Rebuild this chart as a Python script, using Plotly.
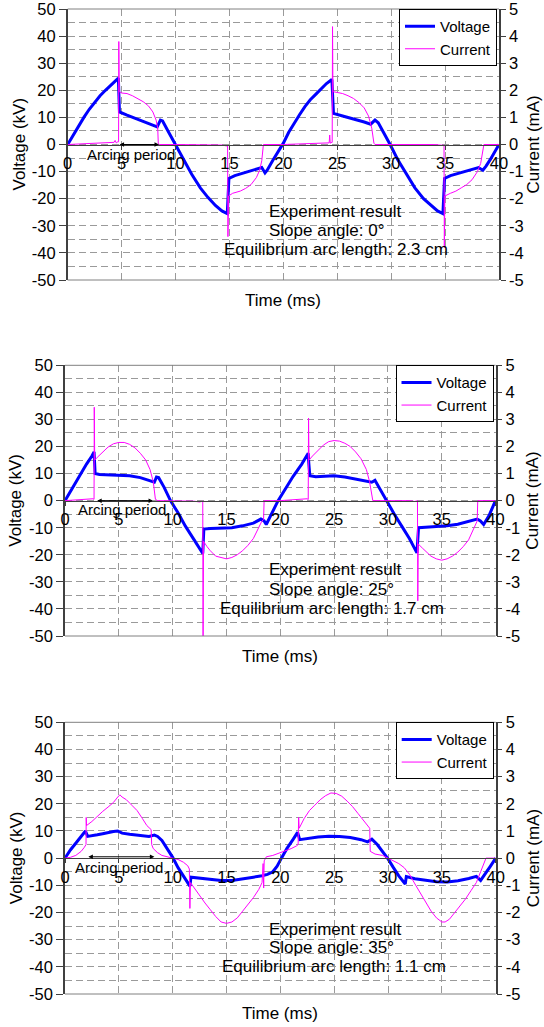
import plotly.graph_objects as go

W, H = 544, 1027
FONT = "Liberation Sans, Arial, sans-serif"

# ---------------- data ----------------
time_ticks = [0, 5, 10, 15, 20, 25, 30, 35, 40]
volt_ticks = [-50, -40, -30, -20, -10, 0, 10, 20, 30, 40, 50]
curr_ticks = [-5, -4, -3, -2, -1, 0, 1, 2, 3, 4, 5]

slope_angles = [0, 25, 35]
arc_lengths = [2.3, 1.7, 1.1]

# Panel 1 (slope 0 deg)
t1_v = [0, 0.5, 1, 1.5, 2, 2.5, 3, 3.5, 4, 4.4, 4.7, 4.75, 4.8, 5.5, 6.5, 7.5, 8.3, 8.6, 8.8, 9.3,
        10, 10.7, 11.5, 12.3, 13, 13.7, 14.3, 14.8, 14.85, 14.95, 15.5, 16.5, 17.5, 18.0, 18.3, 18.5, 19, 19.5, 20, 20.5,
        21, 21.5, 22, 22.5, 23, 23.5, 24, 24.5, 24.55, 24.65, 25.5, 26.5, 27.5, 28.1, 28.5, 28.8, 29.3, 29.9, 30.6, 31.4,
        32.2, 33, 33.7, 34.3, 34.8, 34.85, 34.95, 35.5, 36.5, 37.5, 38.1, 38.5, 38.8, 39.2, 39.6, 40]
v1 = [0, 3.5, 7, 10, 13, 15.5, 18, 20, 22, 23.5, 24.5, 18, 12, 10.8, 9.3, 7.8, 6.5, 9, 8.7, 5,
      0, -5.5, -11, -16, -19.5, -22.5, -24.5, -25.5, -18, -12.5, -11.5, -10.3, -9, -8.5, -10.5, -9.5, -6, -2.8, 0.5, 4.5,
      8, 11, 14, 16.5, 18.5, 20.5, 22.5, 24, 18, 11.5, 10.5, 9.5, 8.3, 7.5, 9, 8, 4.5, 0, -5.5, -11,
      -16, -20, -22.5, -24.5, -25.5, -18, -12.5, -11.5, -10.3, -9, -8.5, -9.5, -8, -5.5, -2.5, 0]
t1_i = [0, 1, 2, 3, 4, 4.3, 4.4, 4.5, 4.65, 4.72, 4.74, 4.78, 5, 5.5, 6, 6.5, 7, 7.5, 7.9, 8.2,
        8.35, 8.4, 8.5, 10, 12, 14, 14.3, 14.7, 14.8, 14.83, 14.86, 14.92, 15.3, 16, 16.5, 17, 17.5, 17.8, 18, 18.1,
        18.15, 20, 22, 23, 24, 24.25, 24.3, 24.35, 24.5, 24.53, 24.56, 24.6, 25, 25.5, 26, 26.5, 27, 27.5, 27.9, 28.2,
        28.4, 28.5, 30, 32, 34, 34.8, 34.88, 34.9, 34.93, 34.98, 35.5, 36, 36.5, 37, 37.5, 38, 38.3, 38.5, 38.6, 40]
i1 = [0, 0.02, 0.03, 0.05, 0.07, 0.08, 0.15, 0.06, 0.1, 0.1, 3.8, 1.95, 1.9, 1.88, 1.8, 1.7, 1.58, 1.42, 1.2, 0.9,
      0.6, 0.05, 0, 0, 0, 0, -0.02, -0.05, -0.03, -0.05, -3.4, -1.9, -1.8, -1.72, -1.62, -1.48, -1.22, -0.95, -0.6, -0.1,
      0, 0, 0.02, 0.03, 0.05, 0.06, 0.35, 0.05, 0.08, 0.08, 4.35, 1.95, 1.92, 1.88, 1.8, 1.7, 1.55, 1.35, 1.05, 0.6,
      0.05, 0, 0, 0, 0, -0.03, -0.02, -0.02, -3.8, -1.9, -1.8, -1.72, -1.6, -1.48, -1.3, -1.0, -0.7, -0.3, 0, 0]

# Panel 2 (slope 25 deg)
t2_v = [0, 0.5, 1, 1.5, 2, 2.5, 2.7, 2.75, 2.8, 3.2, 4, 5, 6, 7, 7.8, 8.3, 8.5, 8.7, 9.2, 9.8,
        10.5, 11.2, 12, 12.8, 12.85, 12.9, 13.5, 14.5, 15.5, 16.5, 17.5, 18.2, 18.5, 18.7, 19.2, 19.8, 20.5, 21.2, 22, 22.6,
        22.65, 22.75, 23.3, 24, 25, 26, 27, 28, 28.5, 28.8, 29.3, 29.9, 30.6, 31.3, 32, 32.7, 32.75, 32.85, 33.5, 34.5,
        35.5, 36.5, 37.5, 38.3, 38.6, 38.9, 39.4, 40]
v2 = [0, 3.5, 7, 10.3, 13.5, 16.5, 18, 14, 10, 9.7, 9.5, 9.5, 9.2, 8.5, 7.5, 6.8, 8.7, 8.5, 5, 0,
      -4.5, -9.5, -14.5, -19.5, -15, -10.5, -10.3, -10.2, -10, -9.3, -8.3, -6.8, -7.5, -8.8, -5, 0, 4.5, 9, 13.5, 17.5,
      14, 9.2, 8.8, 9, 9.2, 8.7, 8, 7.3, 6.8, 7.5, 4, -0.3, -5, -9.5, -14, -19.3, -15, -10, -9.8, -9.6,
      -9.3, -8.7, -7.8, -6.8, -7.5, -8.8, -5.5, 0]
t2_i = [0, 1, 2, 2.6, 2.7, 2.72, 2.76, 3, 3.5, 4, 4.5, 5, 5.5, 6, 6.5, 7, 7.5, 7.9, 8.2, 8.35,
        8.4, 8.6, 10, 11, 12, 12.5, 12.8, 12.83, 12.87, 13.2, 13.5, 14, 14.5, 15, 15.5, 16, 16.5, 17, 17.5, 18,
        18.3, 18.45, 18.5, 20, 21, 22, 22.5, 22.6, 22.63, 22.67, 23, 23.5, 24, 24.5, 25, 25.5, 26, 26.5, 27, 27.5,
        28, 28.3, 28.5, 28.6, 30, 32, 32.5, 32.75, 32.78, 32.82, 33.2, 33.5, 34, 34.5, 35, 35.5, 36, 36.5, 37, 37.5,
        38, 38.3, 38.35, 40]
i2 = [0, 0.03, 0.05, 0.07, 0.05, 3.45, 1.5, 1.6, 1.8, 1.98, 2.1, 2.15, 2.15, 2.08, 1.95, 1.75, 1.5, 1.15, 0.7, 0.3,
      0.05, 0, 0, 0, -0.02, -0.05, -0.02, -5, -1.5, -1.7, -1.85, -2.05, -2.1, -2.15, -2.1, -2.0, -1.85, -1.65, -1.4, -1.0,
      -0.75, -0.7, 0, 0, 0.02, 0.05, 0.07, 0.04, 3.05, 1.5, 1.65, 1.85, 2.05, 2.18, 2.22, 2.2, 2.12, 2.0, 1.8, 1.55,
      1.15, 0.7, 0.2, 0, 0, 0, -0.03, 0, -3.7, -1.6, -1.75, -1.85, -2.05, -2.15, -2.2, -2.15, -2.05, -1.9, -1.7, -1.45,
      -1.05, -0.75, 0, 0]

# Panel 3 (slope 35 deg)
t3_v = [0, 0.5, 1, 1.5, 1.9, 2.1, 2.5, 3, 3.5, 4, 4.5, 4.9, 5.3, 6, 7, 7.8, 8.3, 8.6, 9, 9.5,
        10, 10.5, 11, 11.6, 11.7, 12.5, 13.5, 14.5, 15.5, 16.5, 17.5, 18.3, 18.8, 19.3, 19.7, 20.1, 20.6, 21.2, 21.6, 21.8,
        22.5, 23.5, 24.5, 25.5, 26.5, 27.5, 28.1, 28.5, 29, 29.5, 30, 30.5, 31, 31.6, 31.7, 32.5, 33.5, 34.5, 35.5, 36.5,
        37.5, 38.2, 38.6, 39, 39.5, 40]
v3 = [0, 3, 5.5, 8, 10, 8, 8.2, 8.6, 9, 9.5, 9.8, 10, 9.2, 8.8, 8.4, 8, 8.5, 8, 6.5, 3.5,
      0.3, -3.5, -6.8, -10.3, -7, -7.3, -7.8, -8.2, -8.2, -7.7, -7, -6.5, -6, -5, -3, 0, 3.5, 7, 9.5, 6.8,
      7.3, 7.8, 8.1, 8, 7.6, 6.8, 6, 7, 5, 2.5, -0.3, -3.5, -6.5, -9.5, -6.8, -7.6, -8.2, -8.7, -8.8, -8.3,
      -7.5, -6.7, -8.2, -6, -3, 0]
t3_i = [0, 0.5, 1, 1.5, 1.8, 1.95, 1.97, 2.0, 2.5, 3, 3.5, 4, 4.5, 4.9, 5.1, 5.3, 5.7, 6.2, 6.7, 7.2,
        7.6, 8.0, 8.05, 8.2, 8.6, 9, 9.5, 10, 10.5, 11, 11.4, 11.55, 11.6, 11.65, 12, 12.5, 13, 13.5, 14, 14.5,
        15, 15.5, 16, 16.5, 17, 17.5, 18, 18.3, 18.4, 18.45, 18.5, 18.7, 19.3, 20, 20.5, 21, 21.5, 21.65, 21.7, 21.75,
        22.2, 22.7, 23.2, 23.7, 24.2, 24.7, 25.2, 25.7, 26.2, 26.7, 27.2, 27.7, 28.1, 28.3, 28.35, 28.8, 29.5, 30, 30.5, 31,
        31.5, 32, 32.5, 33, 33.5, 34, 34.5, 35, 35.3, 35.7, 36.2, 36.7, 37.2, 37.7, 38.2, 38.6, 38.9, 39.1, 40]
i3 = [0, 0.03, 0.1, 0.25, 0.4, 0.5, 1.5, 1.2, 1.35, 1.55, 1.72, 1.88, 2.05, 2.25, 2.33, 2.25, 2.15, 1.95, 1.75, 1.45,
      1.2, 1.05, 0.5, 0.35, 0.2, 0.1, 0.05, 0, -0.05, -0.15, -0.28, -0.4, -1.85, -0.9, -1.1, -1.4, -1.65, -1.9, -2.15, -2.35,
      -2.4, -2.35, -2.2, -1.95, -1.7, -1.45, -1.15, -0.9, -0.2, -1.1, -0.1, 0.05, 0.1, 0.2, 0.28, 0.35, 0.45, 0.5, 1.5, 1.1,
      1.45, 1.75, 1.95, 2.15, 2.3, 2.4, 2.38, 2.28, 2.1, 1.9, 1.65, 1.4, 1.2, 1.1, 0.25, 0.15, 0.1, 0, -0.1, -0.2,
      -0.35, -0.6, -0.95, -1.3, -1.65, -1.95, -2.2, -2.35, -2.35, -2.25, -2.0, -1.75, -1.5, -1.2, -0.9, -0.5, -0.15, 0, 0]

# arcing period marks (ms)
arc_start = [4.67, 2.85, 2.03]
arc_end = [8.47, 8.18, 8.3]

# ---------------- layout geometry (pixels) ----------------
panels = [
    dict(tv=t1_v, v=v1, ti=t1_i, i=i1, l=67.7, r=499.0, t=9.0, b=280.0,
         txt_x=18.5, txt_c=24.9, txt_y=[-24.6, -31.6, -38.6], arc_y=0.0, arc_txt=(5.9, -3.6),
         vt_x=19, ct_x=533, time_y=300),
    dict(tv=t2_v, v=v2, ti=t2_i, i=i2, l=65.0, r=495.5, t=365.3, b=636.0,
         txt_x=18.8, txt_c=24.8, txt_y=[-25.6, -32.7, -39.7], arc_y=0.0, arc_txt=(5.34, -3.4),
         vt_x=16, ct_x=533, time_y=656),
    dict(tv=t3_v, v=v3, ti=t3_i, i=i3, l=65.0, r=495.7, t=722.3, b=994.0,
         txt_x=18.8, txt_c=25.0, txt_y=[-26.1, -32.7, -39.7], arc_y=0.5, arc_txt=(4.98, -3.6),
         vt_x=16, ct_x=533, time_y=1013),
]

GRID = "#9a9a9a"
AXC = "#404040"
DASH = "7px,4px"
FS = 17      # text size of titles and notes
TFS = 16.5   # tick label size

fig = go.Figure()
layout = dict(width=W, height=H, margin=dict(l=0, r=0, t=0, b=0),
              paper_bgcolor="white", plot_bgcolor="white",
              font=dict(family=FONT, color="black", size=FS))
annotations = []
shapes = []


def hyph(vals):
    return [str(v).replace("\u2212", "-") for v in vals]


for k, p in enumerate(panels, start=1):
    xa = "x" if k == 1 else f"x{k}"
    yl = "y" if k == 1 else f"y{2 * k - 1}"
    yr = f"y{2 * k}"
    leg = "legend" if k == 1 else f"legend{k}"
    x0, x1 = p["l"] / W, p["r"] / W
    yb, yt = 1 - p["b"] / H, 1 - p["t"] / H
    ymid = (yb + yt) / 2

    fig.add_trace(go.Scatter(x=p["tv"], y=p["v"], mode="lines", name="Voltage",
                             line=dict(color="#0000FF", width=3), xaxis=xa, yaxis=yl, legend=leg))
    fig.add_trace(go.Scatter(x=p["ti"], y=p["i"], mode="lines", name="Current",
                             line=dict(color="#FF00FF", width=1), xaxis=xa, yaxis=yr, legend=leg))

    xkey = "xaxis" if k == 1 else f"xaxis{k}"
    ylkey = "yaxis" if k == 1 else f"yaxis{2 * k - 1}"
    yrkey = f"yaxis{2 * k}"

    layout[xkey] = dict(domain=[x0, x1], range=[0, 40], anchor="free", position=ymid,
                        tickmode="array", tickvals=time_ticks, ticktext=hyph(time_ticks),
                        showgrid=True, gridcolor=GRID, griddash=DASH, gridwidth=1,
                        showline=True, linecolor=AXC, linewidth=1, ticks="outside", ticklen=4,
                        tickcolor=AXC, tickfont=dict(size=TFS, color="black"), zeroline=False,
                        automargin=False, fixedrange=True, ticklabeloverflow="allow")
    minor_vals = [v + 5 for v in volt_ticks[:-1]]
    layout[ylkey] = dict(domain=[yb, yt], range=[-50, 50], anchor=xa, side="left",
                         tickmode="array", tickvals=volt_ticks, ticktext=hyph(volt_ticks),
                         showgrid=True, gridcolor=GRID, griddash=DASH, gridwidth=1,
                         minor=dict(tickmode="array", tickvals=minor_vals, showgrid=True,
                                    gridcolor=GRID, griddash=DASH, gridwidth=1),
                         showline=True, linecolor=AXC, linewidth=1.5, ticks="outside", ticklen=7,
                         tickcolor=AXC, tickfont=dict(size=TFS, color="black"), zeroline=False,
                         automargin=False, fixedrange=True, ticklabeloverflow="allow")
    layout[yrkey] = dict(range=[-5, 5], overlaying=yl, side="right", anchor=xa,
                         tickmode="array", tickvals=curr_ticks, ticktext=hyph(curr_ticks),
                         showgrid=False, showline=True, linecolor=AXC, linewidth=1.5,
                         ticks="outside", ticklen=5, tickcolor=AXC,
                         tickfont=dict(size=TFS, color="black"), zeroline=False,
                         automargin=False, fixedrange=True, ticklabeloverflow="allow")

    layout[leg] = dict(x=(p["r"] - 2) / W, xanchor="right", y=yt, yanchor="top",
                       xref="paper", yref="paper", bgcolor="white", bordercolor="black",
                       borderwidth=1, font=dict(size=15, color="black", family=FONT),
                       tracegroupgap=0, itemwidth=30)

    # plot-area border (top and bottom)
    for yy in (0, 1):
        shapes.append(dict(type="line", xref=f"{xa} domain", yref=f"{yl} domain",
                           x0=0, x1=1, y0=yy, y1=yy, line=dict(color="#808080", width=1)))

    # text block
    lines = ["Experiment result", f"Slope angle: {slope_angles[k - 1]}\u00b0",
             f"Equilibrium arc length: {arc_lengths[k - 1]} cm"]
    annotations.append(dict(x=p["txt_x"], y=p["txt_y"][0], xref=xa, yref=yl, text=lines[0],
                            showarrow=False, xanchor="left", yanchor="middle", font=dict(size=FS)))
    annotations.append(dict(x=p["txt_x"], y=p["txt_y"][1], xref=xa, yref=yl, text=lines[1],
                            showarrow=False, xanchor="left", yanchor="middle", font=dict(size=FS)))
    annotations.append(dict(x=p["txt_c"], y=p["txt_y"][2], xref=xa, yref=yl, text=lines[2],
                            showarrow=False, xanchor="center", yanchor="middle", font=dict(size=FS)))

    # arcing period arrow + label
    annotations.append(dict(x=arc_end[k - 1], y=p["arc_y"], ax=arc_start[k - 1], ay=p["arc_y"],
                            xref=xa, yref=yl, axref=xa, ayref=yl, text="", showarrow=True,
                            arrowhead=2, startarrowhead=2, arrowside="end+start",
                            arrowsize=0.9, startarrowsize=0.9, arrowwidth=1, arrowcolor="black",
                            standoff=0, startstandoff=0))
    annotations.append(dict(x=p["arc_txt"][0], y=p["arc_txt"][1], xref=xa, yref=yl,
                            text="Arcing period", showarrow=False, xanchor="center",
                            yanchor="middle", font=dict(size=15)))

    # axis titles
    annotations.append(dict(x=p["vt_x"] / W, y=ymid, xref="paper", yref="paper",
                            text="Voltage (kV)", textangle=-90, showarrow=False,
                            xanchor="center", yanchor="middle", font=dict(size=FS)))
    annotations.append(dict(x=p["ct_x"] / W, y=ymid, xref="paper", yref="paper",
                            text="Current (mA)", textangle=-90, showarrow=False,
                            xanchor="center", yanchor="middle", font=dict(size=FS)))
    annotations.append(dict(x=(x0 + x1) / 2, y=1 - p["time_y"] / H, xref="paper", yref="paper",
                            text="Time (ms)", showarrow=False, xanchor="center",
                            yanchor="middle", font=dict(size=FS)))

layout["annotations"] = annotations
layout["shapes"] = shapes
layout["showlegend"] = True
fig.update_layout(**layout)
fig.write_html("out.html")
